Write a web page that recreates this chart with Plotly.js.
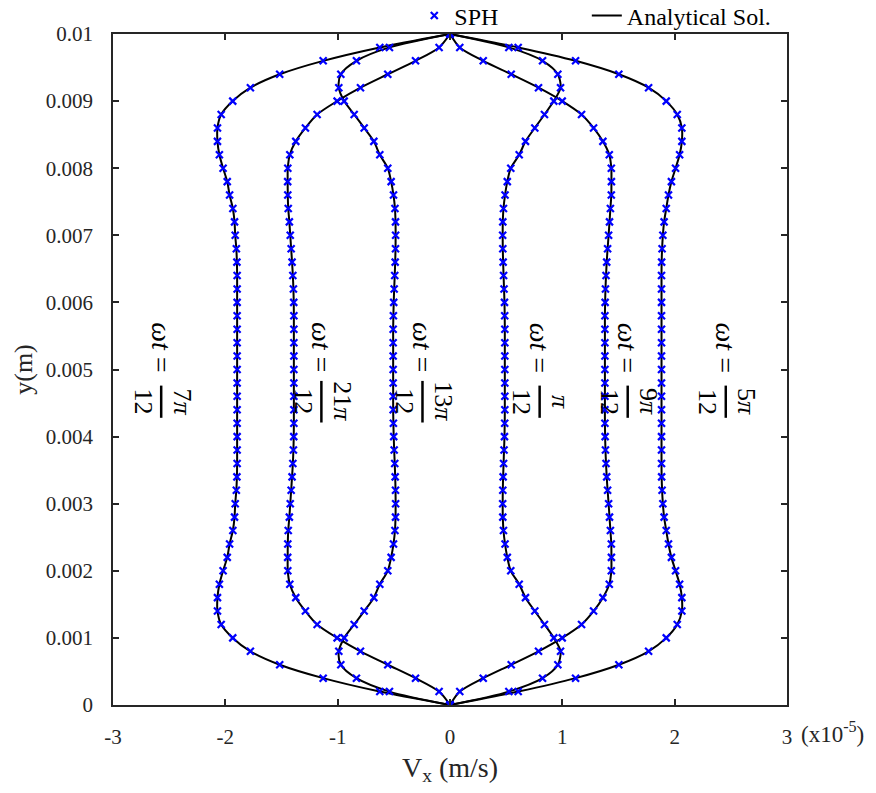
<!DOCTYPE html>
<html>
<head>
<meta charset="utf-8">
<script src="https://cdn.plot.ly/plotly-3.0.1.min.js"></script>
<style>html,body{margin:0;padding:0;background:#fff;}#chart{width:876px;height:793px;}</style>
</head>
<body>
<div id="chart"></div>
<script>
// y positions (m)
var yPos = [0, 0.0002, 0.0004, 0.0006, 0.0008, 0.001, 0.0012, 0.0014, 0.0016, 0.0018,
  0.002, 0.0022, 0.0024, 0.0026, 0.0028, 0.003, 0.0032, 0.0034, 0.0036, 0.0038,
  0.004, 0.0042, 0.0044, 0.0046, 0.0048, 0.005, 0.0052, 0.0054, 0.0056, 0.0058,
  0.006, 0.0062, 0.0064, 0.0066, 0.0068, 0.007, 0.0072, 0.0074, 0.0076, 0.0078,
  0.008, 0.0082, 0.0084, 0.0086, 0.0088, 0.009, 0.0092, 0.0094, 0.0096, 0.0098, 0.01];

// Vx in units of 1e-5 m/s
var vx_7pi = [0, -0.625, -1.129, -1.516, -1.777, -1.934, -2.037, -2.070, -2.070, -2.053,
  -2.020, -1.983, -1.962, -1.933, -1.918, -1.912, -1.902, -1.897, -1.895, -1.895,
  -1.895, -1.895, -1.895, -1.895, -1.895, -1.895, -1.895, -1.895, -1.895, -1.895,
  -1.895, -1.895, -1.895, -1.897, -1.902, -1.912, -1.918, -1.933, -1.962, -1.983,
  -2.020, -2.053, -2.070, -2.070, -2.037, -1.934, -1.777, -1.516, -1.129, -0.625, 0];

var vx_21pi = [0, -0.097, -0.307, -0.554, -0.797, -1.005, -1.183, -1.287, -1.373, -1.426,
  -1.444, -1.445, -1.444, -1.440, -1.430, -1.422, -1.414, -1.406, -1.399, -1.394,
  -1.391, -1.390, -1.390, -1.390, -1.390, -1.390, -1.390, -1.390, -1.390, -1.390,
  -1.391, -1.394, -1.399, -1.406, -1.414, -1.422, -1.430, -1.440, -1.444, -1.445,
  -1.444, -1.426, -1.373, -1.287, -1.183, -1.005, -0.797, -0.554, -0.307, -0.097, 0];

var vx_13pi = [0, -0.539, -0.833, -0.972, -0.990, -0.942, -0.853, -0.764, -0.678, -0.625,
  -0.554, -0.524, -0.503, -0.490, -0.485, -0.484, -0.485, -0.488, -0.492, -0.497,
  -0.501, -0.504, -0.506, -0.506, -0.506, -0.506, -0.506, -0.506, -0.506, -0.504,
  -0.501, -0.497, -0.492, -0.488, -0.485, -0.484, -0.485, -0.490, -0.503, -0.524,
  -0.554, -0.625, -0.678, -0.764, -0.853, -0.942, -0.990, -0.972, -0.833, -0.539, 0];

var vx_1pi = [0, 0.524, 0.824, 0.960, 0.984, 0.924, 0.841, 0.755, 0.672, 0.616,
  0.541, 0.510, 0.490, 0.476, 0.470, 0.469, 0.470, 0.473, 0.477, 0.481,
  0.485, 0.487, 0.488, 0.488, 0.488, 0.488, 0.488, 0.488, 0.488, 0.487,
  0.485, 0.481, 0.477, 0.473, 0.470, 0.469, 0.470, 0.476, 0.490, 0.510,
  0.541, 0.616, 0.672, 0.755, 0.841, 0.924, 0.984, 0.960, 0.824, 0.524, 0];

var vx_9pi = [0, 0.087, 0.296, 0.545, 0.788, 0.999, 1.171, 1.278, 1.361, 1.418,
  1.436, 1.437, 1.436, 1.428, 1.420, 1.412, 1.403, 1.395, 1.389, 1.384,
  1.381, 1.379, 1.379, 1.379, 1.379, 1.379, 1.379, 1.379, 1.379, 1.379,
  1.381, 1.384, 1.389, 1.395, 1.403, 1.412, 1.420, 1.428, 1.436, 1.437,
  1.436, 1.418, 1.361, 1.278, 1.171, 0.999, 0.788, 0.545, 0.296, 0.087, 0];

var vx_5pi = [0, 0.607, 1.118, 1.503, 1.768, 1.925, 2.023, 2.064, 2.064, 2.044,
  2.008, 1.971, 1.945, 1.925, 1.906, 1.895, 1.888, 1.884, 1.883, 1.883,
  1.883, 1.883, 1.883, 1.883, 1.883, 1.883, 1.883, 1.883, 1.883, 1.883,
  1.883, 1.883, 1.883, 1.884, 1.888, 1.895, 1.906, 1.925, 1.945, 1.971,
  2.008, 2.044, 2.064, 2.064, 2.023, 1.925, 1.768, 1.503, 1.118, 0.607, 0];

var curveData = [vx_7pi, vx_21pi, vx_13pi, vx_1pi, vx_9pi, vx_5pi];

// label text pieces: ωt = num/den
var labelNum = ['7<i>π</i>', '21<i>π</i>', '13<i>π</i>', '<i>π</i>', '9<i>π</i>', '5<i>π</i>'];
var labelNumLen = [2, 3, 3, 1, 2, 2];
var labelDen = ['12', '12', '12', '12', '12', '12'];
var labelX = [-2.571, -1.145, -0.245, 0.798, 1.582, 2.455];
var labelTopY = 0.00533;
var labelFracY = 0.00452;

var xTickVals = [-3, -2, -1, 0, 1, 2, 3];
var xTickText = ['-3', '-2', '-1', '0', '1', '2', '3'];
var yTickVals = [0, 0.001, 0.002, 0.003, 0.004, 0.005, 0.006, 0.007, 0.008, 0.009, 0.01];
var yTickText = ['0', '0.001', '0.002', '0.003', '0.004', '0.005', '0.006', '0.007', '0.008', '0.009', '0.01'];

var FONT = 'Liberation Serif, Times New Roman, serif';
var traces = [];
curveData.forEach(function (vx, i) {
  traces.push({
    x: vx, y: yPos, type: 'scatter', mode: 'lines',
    line: {color: '#000000', width: 2, shape: 'spline', smoothing: 0.8},
    name: 'Analytical Sol.', legend: 'legend2', showlegend: i === 0,
    hoverinfo: 'skip'
  });
});
curveData.forEach(function (vx, i) {
  traces.push({
    x: vx, y: yPos, type: 'scatter', mode: 'markers',
    marker: {symbol: 'x-thin-open', size: 7, color: '#0000ff', line: {color: '#0000ff', width: 2.2}},
    name: 'SPH', legend: 'legend', showlegend: i === 0
  });
});

var annotations = [];
var shapes = [];
labelX.forEach(function (lx, i) {
  annotations.push({x: lx, y: labelTopY, xref: 'x', yref: 'y', text: '<i>ωt</i> =', textangle: 90,
    showarrow: false, font: {family: FONT, size: 28, color: '#000'}});
  annotations.push({x: lx, y: labelFracY, xref: 'x', yref: 'y', text: labelNum[i], textangle: 90,
    xshift: 21, showarrow: false, font: {family: FONT, size: 26, color: '#000'}});
  annotations.push({x: lx, y: labelFracY, xref: 'x', yref: 'y', text: labelDen[i], textangle: 90,
    xshift: -18, showarrow: false, font: {family: FONT, size: 26, color: '#000'}});
  var half = labelNumLen[i] > 2 ? 0.00031 : 0.00024;
  shapes.push({type: 'line', xref: 'x', yref: 'y', x0: lx, x1: lx,
    y0: labelFracY - half, y1: labelFracY + half, line: {color: '#000', width: 2.5}});
});
annotations.push({x: 1.018, y: -0.041, xref: 'paper', yref: 'paper', xanchor: 'left', yanchor: 'middle',
  text: '(x10<sup>-5</sup>)', showarrow: false, font: {family: FONT, size: 23, color: '#262626'}});

var axisCommon = {
  showgrid: false, zeroline: false, showline: true, linecolor: '#262626', linewidth: 1.5,
  mirror: 'ticks', ticks: 'inside', ticklen: 6, tickwidth: 1.5, tickcolor: '#262626',
  tickfont: {family: FONT, size: 21, color: '#262626'}
};

var legendCommon = {orientation: 'h', xref: 'paper', xanchor: 'left',
  yref: 'container', y: 0.98, yanchor: 'middle', bgcolor: 'rgba(0,0,0,0)',
  font: {family: FONT, size: 24, color: '#000'}};

var layout = {
  width: 876, height: 793,
  margin: {l: 113, r: 89, t: 34, b: 88, autoexpand: false},
  paper_bgcolor: '#ffffff', plot_bgcolor: '#ffffff',
  showlegend: true,
  legend: Object.assign({}, legendCommon, {x: 0.447}),
  legend2: Object.assign({}, legendCommon, {x: 0.703}),
  xaxis: Object.assign({}, axisCommon, {
    range: [-3, 3], tickvals: xTickVals, ticktext: xTickText, ticklabelstandoff: 12,
    title: {text: 'V<sub>x</sub> (m/s)', font: {family: FONT, size: 28, color: '#262626'}, standoff: 9}
  }),
  yaxis: Object.assign({}, axisCommon, {
    range: [0, 0.01], tickvals: yTickVals, ticktext: yTickText, ticklabelstandoff: 14,
    title: {text: 'y(m)', font: {family: FONT, size: 26, color: '#262626'}, standoff: 6}
  }),
  annotations: annotations,
  shapes: shapes
};

Plotly.newPlot('chart', traces, layout, {displayModeBar: false, responsive: false});
</script>
</body>
</html>
